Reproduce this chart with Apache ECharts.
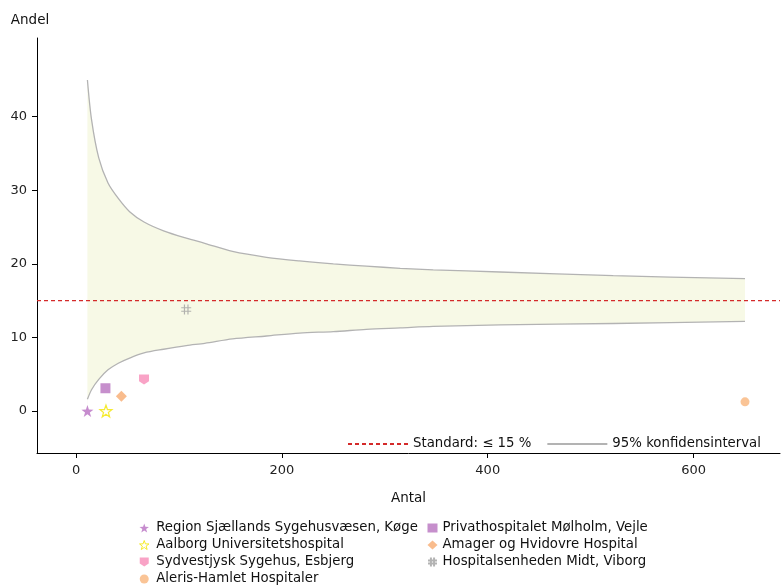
<!DOCTYPE html>
<html><head><meta charset="utf-8">
<script src="https://cdn.jsdelivr.net/npm/echarts@6/dist/echarts.min.js"></script>
<style>html,body{margin:0;padding:0;background:#fff}#c{width:781px;height:586px}</style>
</head><body><div id="c"></div>
<script>
// ---- data ----
const hospitals = ['Region Sjællands Sygehusvæsen, Køge','Aalborg Universitetshospital','Sydvestjysk Sygehus, Esbjerg','Aleris-Hamlet Hospitaler','Privathospitalet Mølholm, Vejle','Amager og Hvidovre Hospital','Hospitalsenheden Midt, Viborg'];
const antal = [11, 29, 66, 650, 28.5, 44, 107];
const andel = [0, 0, 4.3, 1.25, 3.1, 2.0, 13.8];
const ciX     = [11, 15, 22, 31, 41, 52, 66, 85, 107, 125, 152, 185, 217, 250, 282, 315, 347, 412, 522, 650];
const ciUpper = [45.0, 39.6, 34.4, 31.0, 28.9, 27.1, 25.7, 24.5, 23.5, 22.8, 21.7, 20.9, 20.4, 20.0, 19.7, 19.4, 19.2, 18.9, 18.4, 18.0];
const ciLower = [1.6, 2.9, 4.3, 5.6, 6.5, 7.2, 7.9, 8.4, 8.9, 9.2, 9.8, 10.2, 10.6, 10.8, 11.1, 11.3, 11.5, 11.7, 11.9, 12.2];
const standard = 15;
const xTicks = [0, 200, 400, 600];
const yTicks = [0, 10, 20, 30, 40];

// ---- layout/style ----
const xMin = -38, xMax = 684, yMin = -5.7, yMax = 50.7;
const FONT = 'DejaVu Sans';
const starPath = 'path://M0,-10 L2.35,-3.24 L9.51,-3.09 L3.8,1.24 L5.88,8.09 L0,4 L-5.88,8.09 L-3.8,1.24 L-9.51,-3.09 L-2.35,-3.24 Z';
const shieldPath = 'path://M-1,-1 L1,-1 L1,0.35 L0,1 L-1,0.35 Z';
const hashPath = 'path://M-0.35,-1 L-0.35,1 M0.35,-1 L0.35,1 M-1,-0.35 L1,-0.35 M-1,0.35 L1,0.35';
const styles = [
  {symbol: starPath, size: 12, itemStyle: {color: '#b86fc2'}},
  {symbol: starPath, size: 12, itemStyle: {color: '#ffffff', borderColor: '#f2e600', borderWidth: 1.2}},
  {symbol: shieldPath, size: 10, itemStyle: {color: '#f78cb8'}},
  {symbol: 'circle', size: 9, itemStyle: {color: '#f9b57c'}},
  {symbol: 'rect', size: 10, itemStyle: {color: '#b873bf'}},
  {symbol: 'diamond', size: 11, itemStyle: {color: '#f7ab70'}},
  {symbol: hashPath, size: 10, itemStyle: {color: 'rgba(0,0,0,0)', borderColor: '#a0a0a0', borderWidth: 1.2}}
];

const upperData = ciX.map((x, i) => [x, ciUpper[i]]);
const lowerData = ciX.map((x, i) => [x, ciLower[i]]);

const series = [
  {
    name: '95% konfidensinterval', type: 'line', data: upperData,
    symbol: 'none', smooth: 0.3, z: 1,
    lineStyle: {color: '#b3b3b3', width: 1.3},
    itemStyle: {color: '#b3b3b3'},
    areaStyle: {color: '#f7f9e6', opacity: 1, origin: 0}
  },
  {
    name: '95% konfidensinterval', type: 'line', data: lowerData,
    symbol: 'none', smooth: 0.3, z: 1.5,
    lineStyle: {color: '#b3b3b3', width: 1.3},
    itemStyle: {color: '#b3b3b3'},
    areaStyle: {color: '#ffffff', opacity: 1, origin: 0}
  },
  {
    name: 'Standard: ≤ 15 %', type: 'line', data: [[xMin, standard], [xMax, standard]],
    symbol: 'none', z: 3,
    lineStyle: {color: '#d42a2a', width: 1.2, type: [4, 3]},
    itemStyle: {color: '#d42a2a'}
  }
];
hospitals.forEach((h, i) => {
  series.push({
    name: h, type: 'scatter', z: 5,
    data: [[antal[i], andel[i]]],
    symbol: styles[i].symbol, symbolSize: styles[i].size,
    itemStyle: styles[i].itemStyle
  });
});

const axisCommon = {
  type: 'value',
  axisLine: {show: true, onZero: false, lineStyle: {color: '#000', width: 1}},
  splitLine: {show: false},
  axisLabel: {color: '#222', fontFamily: FONT, fontSize: 13, margin: 10},
  axisTick: {show: true, length: 5, lineStyle: {color: '#000'}},
  nameTextStyle: {color: '#111', fontFamily: FONT, fontSize: 13.5}
};

const legendText = {color: '#111', fontFamily: FONT, fontSize: 13.3, lineHeight: 14};
const col1 = hospitals.slice(0, 4).map((h, i) => i === 1
  ? {name: h, icon: starPath, itemStyle: {color: '#ffffff', borderColor: '#f2e600', borderWidth: 1}}
  : {name: h});

const option = {
  animation: false,
  backgroundColor: '#fff',
  grid: {left: 37, right: 1, top: 38, bottom: 133, containLabel: false},
  xAxis: Object.assign({}, axisCommon, {
    min: xMin, max: xMax,
    axisTick: Object.assign({}, axisCommon.axisTick, {customValues: xTicks}),
    axisLabel: Object.assign({}, axisCommon.axisLabel, {customValues: xTicks, margin: 11}),
    name: 'Antal', nameLocation: 'middle', nameGap: 38
  }),
  yAxis: Object.assign({}, axisCommon, {
    min: yMin, max: yMax,
    axisTick: Object.assign({}, axisCommon.axisTick, {customValues: yTicks}),
    axisLabel: Object.assign({}, axisCommon.axisLabel, {customValues: yTicks}),
    name: 'Andel', nameLocation: 'end', nameGap: 11,
    nameTextStyle: Object.assign({}, axisCommon.nameTextStyle, {align: 'center', padding: [0, 14, 0, 0]})
  }),
  legend: [
    {
      data: ['Standard: ≤ 15 %', '95% konfidensinterval'],
      left: 342, top: 432, itemWidth: 60, itemHeight: 12, itemGap: 15,
      itemStyle: {opacity: 0, color: 'rgba(0,0,0,0)', borderWidth: 0},
      textStyle: legendText
    },
    {
      orient: 'vertical', left: 134, top: 516, height: 70,
      data: col1,
      itemWidth: 10, itemHeight: 9, itemGap: 3,
      textStyle: Object.assign({}, legendText, {padding: [0, 0, 0, 2]})
    },
    {
      orient: 'vertical', left: 422, top: 516, height: 70,
      data: hospitals.slice(4),
      itemWidth: 10, itemHeight: 9, itemGap: 3,
      textStyle: legendText
    }
  ],
  series: series
};
echarts.init(document.getElementById('c'), null, {renderer: 'canvas'}).setOption(option);
</script>
</body></html>
